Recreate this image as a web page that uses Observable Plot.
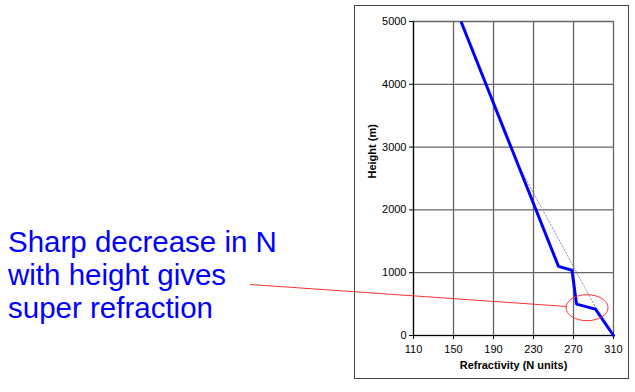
<!DOCTYPE html>
<html>
<head>
<meta charset="utf-8">
<script src="https://cdn.jsdelivr.net/npm/d3@7"></script>
<script src="https://cdn.jsdelivr.net/npm/@observablehq/plot@0.6"></script>
<style>
  html, body { margin: 0; padding: 0; background: #fff; }
  #wrap { position: relative; width: 635px; height: 392px; overflow: hidden; font-family: "Liberation Sans", Arial, sans-serif; }
  #frame { position: absolute; left: 354px; top: 5px; width: 273px; height: 372px; border: 1px solid #444; pointer-events: none; }
  #note { position: absolute; left: 8px; top: 225px; font-size: 29.5px; line-height: 33px; color: #0000ff; white-space: nowrap; }
  #chart { position: absolute; left: 0; top: 0; }
</style>
</head>
<body>
<div id="wrap">
  <div id="note">Sharp decrease in N<br>with height gives<br>super refraction</div>
  <div id="chart"></div>
  <div id="frame"></div>
</div>
<script>
// Refractivity profile (blue line)
const refractivityN = [158, 255, 268.5, 273, 292, 310];
const heightM = [4980, 1100, 1040, 500, 420, 0];
// Standard-gradient reference (dotted)
const standardN = [212, 293];
const standardH = [2800, 420];
// Ticks
const xTicks = [110, 150, 190, 230, 270, 310];
const yTicks = [0, 1000, 2000, 3000, 4000, 5000];
// Annotation pointer (data coordinates) and circled region
const pointerN = [-53, 263];
const pointerH = [812, 462];
const circleN = 284, circleH = 435;

const profile = refractivityN.map((n, i) => ({n, h: heightM[i]}));
const standard = standardN.map((n, i) => ({n, h: standardH[i]}));
const pointer = pointerN.map((n, i) => ({n, h: pointerH[i]}));

const chart = Plot.plot({
  width: 635,
  height: 392,
  marginLeft: 413,
  marginRight: 22,
  marginTop: 21,
  marginBottom: 57,
  style: {background: "transparent", fontFamily: "'Liberation Sans', Arial, sans-serif", fontSize: "11px", color: "#000"},
  x: {domain: [110, 310], ticks: xTicks},
  y: {domain: [0, 5000], ticks: yTicks},
  marks: [
    Plot.gridX(xTicks, {stroke: "#666", strokeOpacity: 1, strokeWidth: 1.3}),
    Plot.gridY(yTicks, {stroke: "#666", strokeOpacity: 1, strokeWidth: 1.3}),
    Plot.axisX(xTicks, {tickSize: 4, tickPadding: 6, label: null, stroke: "#000", tickFormat: d3.format("d")}),
    Plot.axisY(yTicks, {tickSize: 4, tickPadding: 3, label: null, stroke: "#000", tickFormat: d3.format("d")}),
    Plot.ruleX([110], {stroke: "#000", strokeWidth: 1.2}),
    Plot.ruleY([0], {stroke: "#000", strokeWidth: 1.2}),
    Plot.line(standard, {x: "n", y: "h", stroke: "#8f8fc0", strokeWidth: 1, strokeDasharray: "1.5,2"}),
    Plot.line(profile, {x: "n", y: "h", stroke: "#0000ff", strokeWidth: 3, strokeLinejoin: "miter"}),
    Plot.line(pointer, {x: "n", y: "h", stroke: "#ff3333", strokeWidth: 1}),
    Plot.text(["Refractivity (N units)"], {frameAnchor: "bottom", dy: 33, fontWeight: "bold", fontSize: 11}),
    Plot.text(["Height (m)"], {frameAnchor: "left", dx: -41, rotate: -90, fontWeight: "bold", fontSize: 11})
  ]
});

const xs = chart.scale("x"), ys = chart.scale("y");
d3.select(chart).append("ellipse")
  .attr("cx", xs.apply(circleN))
  .attr("cy", ys.apply(circleH))
  .attr("rx", 21)
  .attr("ry", 13)
  .attr("fill", "none")
  .attr("stroke", "#ff3333")
  .attr("stroke-width", 1);

document.getElementById("chart").appendChild(chart);
</script>
</body>
</html>
